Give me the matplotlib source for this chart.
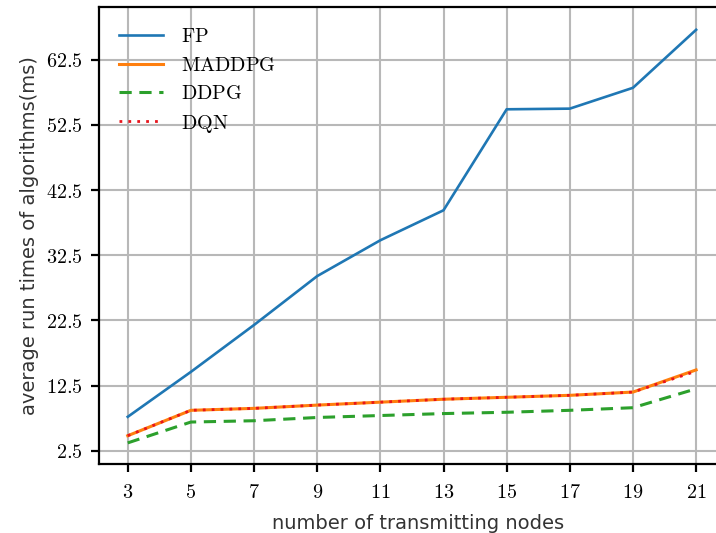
import matplotlib
matplotlib.use("Agg")
import matplotlib.pyplot as plt
from matplotlib.ticker import FixedLocator, FuncFormatter

plt.rcParams['mathtext.fontset'] = 'cm'

nodes = [3, 5, 7, 9, 11, 13, 15, 17, 19, 21]
fp = [7.7, 14.6, 21.8, 29.3, 34.8, 39.4, 54.9, 55.0, 58.2, 67.1]
maddpg = [4.8, 8.7, 9.0, 9.5, 9.95, 10.4, 10.7, 11.0, 11.5, 14.9]
ddpg = [3.7, 6.9, 7.1, 7.6, 7.9, 8.2, 8.4, 8.7, 9.1, 12.0]
dqn = [4.8, 8.7, 9.0, 9.5, 9.95, 10.4, 10.7, 11.0, 11.5, 14.7]
yticks = [2.5, 12.5, 22.5, 32.5, 42.5, 52.5, 62.5]

W, H = 716, 533
fig = plt.figure(figsize=(W/100, H/100), dpi=100)
ax = fig.add_axes([99/W, 1-464/H, (W-99)/W + 0.03, (464-7)/H])

ax.plot(nodes, fp, color='#1f77b4', lw=1.9, label=r'$\mathrm{FP}$')
ax.plot(nodes, maddpg, color='#ff7f0e', lw=2.2, label=r'$\mathrm{MADDPG}$')
ax.plot(nodes, ddpg, color='#2ca02c', lw=2.2, ls=(0, (4, 2.5)), label=r'$\mathrm{DDPG}$')
ax.plot(nodes, dqn, color='#e8141c', lw=2.0, ls=(0, (1, 2.2)), label=r'$\mathrm{DQN}$')

ax.set_xlim(2.09, 22.31)
ax.set_ylim(0.46, 70.6)
ax.xaxis.set_major_locator(FixedLocator(nodes))
ax.yaxis.set_major_locator(FixedLocator(yticks))
ax.xaxis.set_major_formatter(FuncFormatter(lambda v, p: r'$%d$' % round(v)))
ax.yaxis.set_major_formatter(FuncFormatter(lambda v, p: r'$%.1f$' % v))
ax.tick_params(axis='both', labelsize=14.5, width=1.6, length=6, color='black')
ax.tick_params(axis='x', pad=8)
ax.tick_params(axis='y', pad=6)

ax.grid(True, color='#b8b8b8', lw=1.5)
ax.set_axisbelow(True)
for s in ['left', 'bottom', 'top', 'right']:
    ax.spines[s].set_linewidth(1.6)
    ax.spines[s].set_color('black')

ax.set_xlabel('number of transmitting nodes', fontsize=14, color='#333333', labelpad=8)
ax.set_ylabel('average run times of algorithms(ms)', fontsize=14, color='#333333', labelpad=5)

ax.legend(loc='upper left', frameon=False, fontsize=14.5, handlelength=2.2,
          bbox_to_anchor=(0.0, 1.0), labelspacing=0.47, handletextpad=0.85,
          borderaxespad=0.6)

fig.savefig('out.png', dpi=100)
